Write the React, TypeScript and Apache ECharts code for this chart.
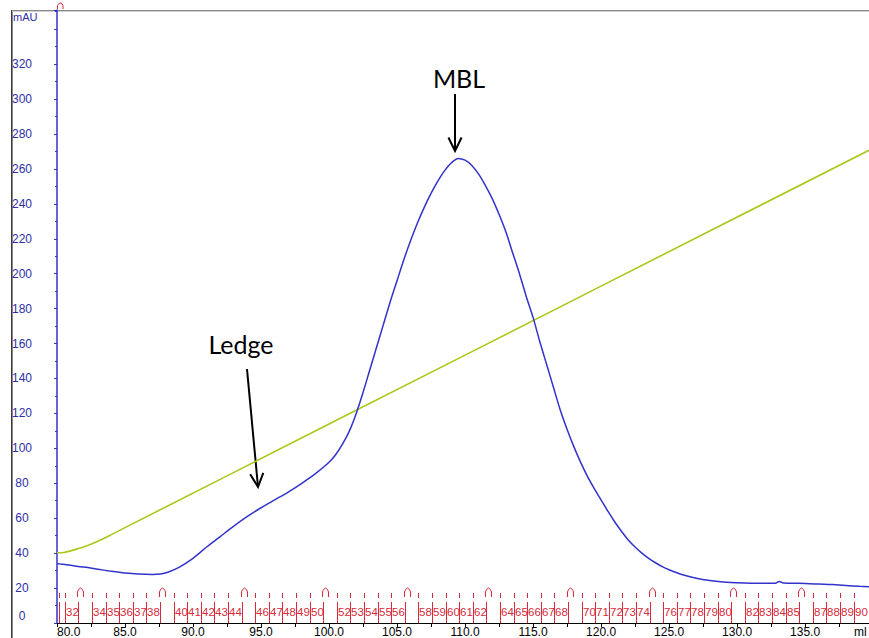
import React, { useEffect, useRef } from "react";
import * as echarts from "echarts";

// UV absorbance (mAU) vs elution volume (ml)
const uvMl = [
  80.0, 81.0, 82.0, 83.0, 84.0, 85.0, 86.0, 87.0, 87.6, 88.2, 89.0, 90.0, 91.0, 92.0, 93.0, 94.0,
  95.0, 96.0, 97.0, 98.0, 99.0, 100.0, 100.5, 101.0, 101.5, 102.0, 102.5, 103.0, 103.5, 104.0,
  104.5, 105.0, 105.5, 106.0, 106.5, 107.0, 107.5, 108.0, 108.5, 109.0, 109.5, 110.0, 110.5,
  111.0, 111.5, 112.0, 112.5, 113.0, 113.5, 114.0, 114.5, 115.0, 115.5, 116.0, 116.5, 117.0,
  117.5, 118.0, 118.5, 119.0, 119.5, 120.0, 120.5, 121.0, 121.5, 122.0, 122.5, 123.0, 123.5,
  124.0, 124.5, 125.0, 126.0, 127.0, 128.0, 129.0, 130.0, 131.0, 132.0, 132.8, 133.1, 133.4,
  134.0, 135.0, 136.0, 137.0, 138.0, 139.0, 139.7,
];
const uvMau = [
  34.0, 33.0, 32.0, 30.8, 29.6, 28.6, 28.0, 27.8, 28.0, 29.2, 32.0, 37.0, 43.5, 49.5, 55.5, 61.0,
  66.0, 70.5, 75.0, 80.0, 85.5, 92.0, 96.5, 102.5, 110.0, 120.0, 132.0, 145.0, 158.0, 171.0,
  184.0, 196.0, 208.0, 219.0, 229.0, 238.0, 246.0, 253.0, 259.0, 263.5, 266.0, 265.0, 262.0,
  257.0, 250.5, 243.0, 234.0, 224.0, 212.0, 200.0, 187.0, 175.0, 161.0, 148.0, 135.0, 122.0,
  111.0, 101.0, 92.0, 84.0, 77.0, 70.5, 64.0, 58.0, 52.5, 47.5, 43.5, 40.0, 37.0,
  34.5, 32.3, 30.5, 27.6, 25.6, 24.3, 23.5, 23.0, 22.8, 22.8, 22.8, 23.8, 22.9,
  22.8, 22.6, 22.4, 22.0, 21.5, 21.0, 20.7,
];

// Gradient trace
const gradMl = [80.0, 80.5, 81.0, 82.0, 83.0, 84.0, 85.0, 100.0, 120.0, 139.7];
const gradVal = [40.2, 40.4, 41.3, 43.6, 46.8, 50.6, 54.6, 113.9, 192.9, 270.7];

// Fractions (start volume, number); null = unnamed boundary
const fracStarts = [
  80.15, 80.57, 81.57, 82.57, 83.57, 84.57, 85.57, 86.57, 87.57, 88.57, 89.57, 90.57, 91.57,
  92.57, 93.57, 94.57, 95.57, 96.57, 97.57, 98.57, 99.57, 100.57, 101.57, 102.57, 103.57,
  104.57, 105.57, 106.57, 107.57, 108.57, 109.57, 110.57, 111.57, 112.57, 113.57, 114.57,
  115.57, 116.57, 117.57, 118.57, 119.57, 120.57, 121.57, 122.57, 123.57, 124.57, 125.57,
  126.57, 127.57, 128.57, 129.57, 130.57, 131.57, 132.57, 133.57, 134.57, 135.57, 136.57,
  137.57, 138.57,
];
const fracNumbers: (number | null)[] = [
  null, 32, 33, 34, 35, 36, 37, 38, 39, 40, 41, 42, 43, 44, 45, 46, 47, 48, 49, 50, 51, 52, 53,
  54, 55, 56, 57, 58, 59, 60, 61, 62, 63, 64, 65, 66, 67, 68, 69, 70, 71, 72, 73, 74, 75, 76,
  77, 78, 79, 80, 81, 82, 83, 84, 85, 86, 87, 88, 89, 90,
];
const arcFractions = [33, 39, 45, 51, 57, 63, 69, 75, 81, 86];

const BLUE = "#3232cc";
const BLUE_TXT = "#2e2ea6";
const GREEN = "#a8c81a";
const RED = "#d62a3c";
const FONT = '"Liberation Sans", Arial, sans-serif';
const ANN_FONT = 'Lato, "Open Sans", sans-serif';

export default function App() {
  const ref = useRef<HTMLDivElement>(null);

  useEffect(() => {
    if (!ref.current) return;
    const chart = echarts.init(ref.current, undefined, { renderer: "svg" });

    const uvData = uvMl.map((x, i) => [x, uvMau[i]]);
    const gradData = gradMl.map((x, i) => [x, gradVal[i]]);
    const fracData = fracStarts.map((s, i) => [s, i]);

    const arrow = (x1: number, y1: number, x2: number, y2: number) => {
      const dx = x2 - x1, dy = y2 - y1;
      const len = Math.hypot(dx, dy);
      const ux = dx / len, uy = dy / len;
      const L = 15, a = (26 * Math.PI) / 180;
      const bx = -ux * L, by = -uy * L;
      const w1 = [x2 + bx * Math.cos(a) - by * Math.sin(a), y2 + bx * Math.sin(a) + by * Math.cos(a)];
      const w2 = [x2 + bx * Math.cos(-a) - by * Math.sin(-a), y2 + bx * Math.sin(-a) + by * Math.cos(-a)];
      return [
        { type: "line", shape: { x1, y1, x2, y2 }, style: { stroke: "#000", lineWidth: 2 } },
        { type: "polyline", shape: { points: [w1, [x2, y2], w2] }, style: { stroke: "#000", lineWidth: 2, fill: null } },
      ];
    };

    chart.setOption({
      animation: false,
      backgroundColor: "#ffffff",
      grid: { left: 57, right: 0, top: 10, bottom: 15, containLabel: false },
      xAxis: {
        type: "value",
        min: 80,
        max: 139.7,
        interval: 2.5,
        axisLine: { show: true, lineStyle: { color: "#000", width: 1 } },
        axisTick: { show: true, length: 4, lineStyle: { color: "#000" } },
        axisLabel: {
          margin: 3,
          color: "#000",
          fontSize: 12,
          fontFamily: FONT,
          alignMinLabel: "left",
          showMaxLabel: false,
          formatter: (v: number) => (Math.abs(v % 5) < 1e-6 ? v.toFixed(1) : ""),
        },
        splitLine: { show: false },
      },
      yAxis: {
        type: "value",
        min: 0,
        max: 351,
        interval: 20,
        axisLine: { show: true, lineStyle: { color: BLUE, width: 1.5 } },
        axisTick: { show: true, length: 3, lineStyle: { color: BLUE } },
        minorTick: { show: true, splitNumber: 2, length: 2, lineStyle: { color: BLUE } },
        axisLabel: {
          margin: 35,
          align: "center",
          color: BLUE_TXT,
          fontSize: 12,
          fontFamily: FONT,
          showMaxLabel: false,
          formatter: (v: number) => {
            if (v === 0) return "{z|0}";
            if (v % 20 !== 0 || v > 320) return "";
            return String(v);
          },
          rich: {
            z: { padding: [0, 0, 14, 0], color: BLUE_TXT, fontSize: 12, fontFamily: FONT },
          },
        },
        splitLine: { show: false },
      },
      series: [
        {
          type: "line",
          data: gradData,
          showSymbol: false,
          smooth: 0.3,
          lineStyle: { color: GREEN, width: 1.6 },
          z: 2,
        },
        {
          type: "line",
          data: uvData,
          showSymbol: false,
          smooth: 0.3,
          lineStyle: { color: BLUE, width: 1.5 },
          z: 3,
        },
        {
          type: "custom",
          data: fracData,
          silent: true,
          clip: false,
          z: 4,
          renderItem: (params: any, api: any) => {
            const idx = api.value(1);
            const p = api.coord([api.value(0), 0]);
            const x = Math.round(p[0]) + 0.5;
            const b = p[1];
            const num = fracNumbers[idx];
            const isArc = num != null && arcFractions.includes(num);
            const children: any[] = [
              { type: "line", shape: { x1: x, y1: b - 21, x2: x, y2: b }, style: { stroke: RED, lineWidth: 1 } },
            ];
            if (isArc) {
              children.push({
                type: "polyline",
                shape: {
                  points: [
                    [x - 1, b - 26], [x - 1, b - 31], [x, b - 33.5], [x + 2, b - 35],
                    [x + 4, b - 33.5], [x + 5, b - 31], [x + 5, b - 26],
                  ],
                },
                style: { stroke: RED, lineWidth: 1, fill: null },
              });
            } else {
              children.push({
                type: "line",
                shape: { x1: x, y1: b - 30, x2: x, y2: b - 25 },
                style: { stroke: RED, lineWidth: 1 },
              });
            }
            if (num != null && !isArc) {
              children.push({
                type: "text",
                style: {
                  x: x + 0.5,
                  y: b - 11.5,
                  text: String(num),
                  fill: RED,
                  font: `11.5px ${FONT}`,
                  align: "left",
                  verticalAlign: "middle",
                },
              });
            }
            return { type: "group", children };
          },
        },
      ],
      graphic: [
        { type: "rect", shape: { x: 11, y: 10, width: 1.6, height: 628 }, style: { fill: "#3a3a3a" }, silent: true },
        { type: "line", shape: { x1: 12, y1: 10.5, x2: 869, y2: 10.5 }, style: { stroke: "#8a8a8a", lineWidth: 1 }, silent: true },
        { type: "line", shape: { x1: 12, y1: 11.5, x2: 869, y2: 11.5 }, style: { stroke: "#cfcfcf", lineWidth: 1 }, silent: true },
        {
          type: "text",
          style: { x: 13, y: 17, text: "mAU", fill: BLUE_TXT, font: `11px ${FONT}`, align: "left", verticalAlign: "middle" },
          silent: true,
        },
        {
          type: "polyline",
          shape: { points: [[57.5, 9], [57.5, 5.5], [59, 3.5], [60.5, 3], [62, 3.5], [63, 5.5], [63, 9]] },
          style: { stroke: RED, lineWidth: 1, fill: null },
          silent: true,
        },
        {
          type: "text",
          style: { x: 854, y: 632, text: "ml", fill: "#000", font: `12px ${FONT}`, align: "left", verticalAlign: "middle" },
          silent: true,
        },
        {
          type: "text",
          style: { x: 459, y: 78, text: "MBL", fill: "#000", font: `25px ${ANN_FONT}`, align: "center", verticalAlign: "middle" },
          silent: true,
        },
        ...arrow(455, 94, 455, 151),
        {
          type: "text",
          style: { x: 241, y: 344, text: "Ledge", fill: "#000", font: `25px ${ANN_FONT}`, align: "center", verticalAlign: "middle" },
          silent: true,
        },
        ...arrow(247, 369, 258, 487),
      ],
    });

    return () => chart.dispose();
  }, []);

  return (
    <div
      ref={ref}
      style={{ position: "fixed", left: 0, top: 0, width: 869, height: 638, background: "#fff" }}
    />
  );
}
